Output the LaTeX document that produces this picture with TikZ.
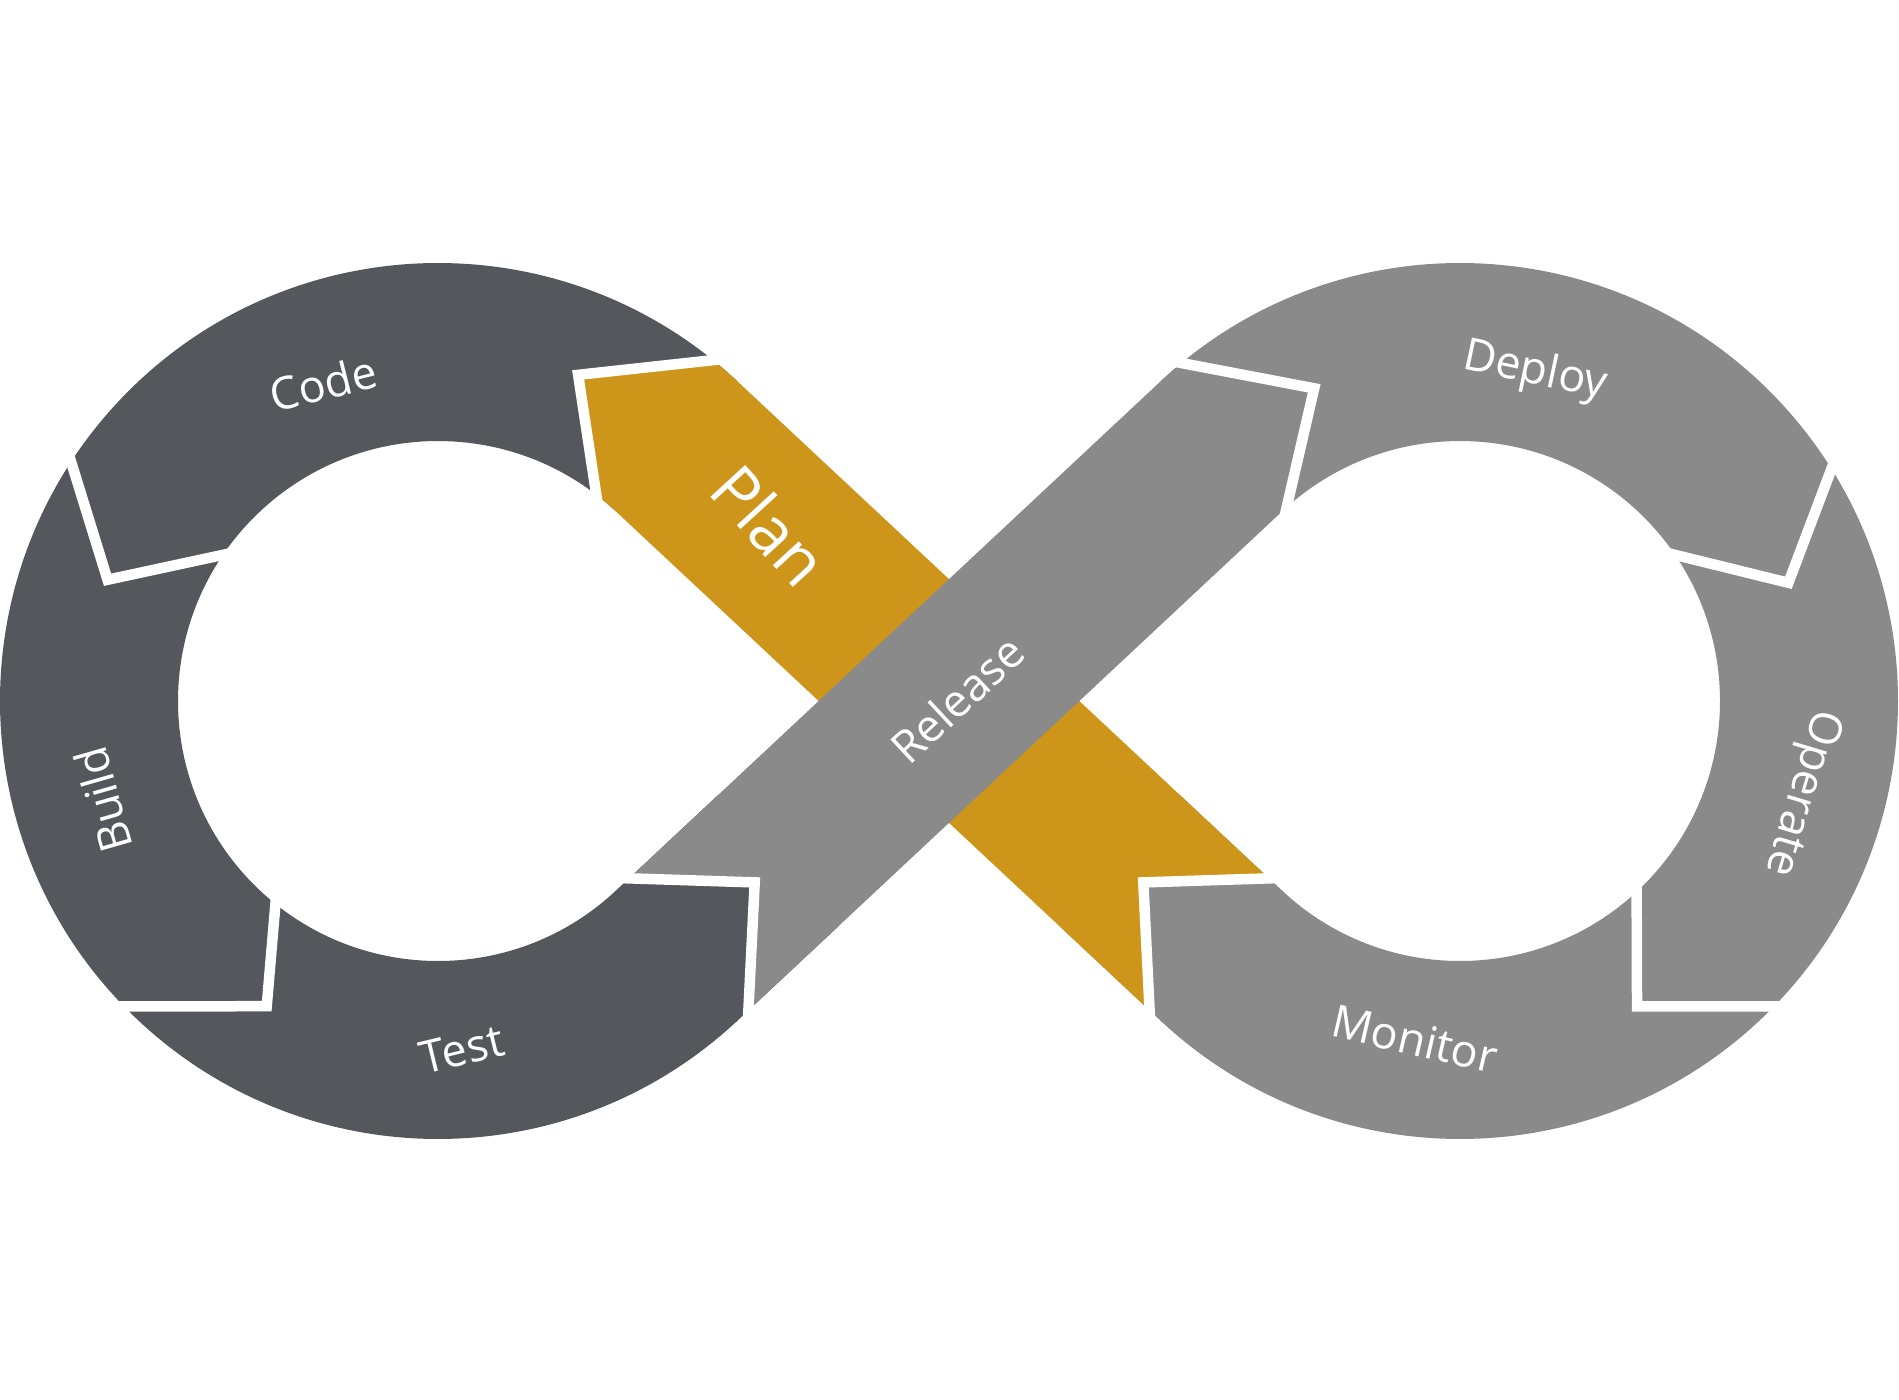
\documentclass[tikz,border=0pt]{standalone}
\usepackage{fontspec}
\setmainfont{Open Sans}
\usetikzlibrary{calc}
\definecolor{ringdark}{HTML}{54575C}
\definecolor{ringgray}{HTML}{8A8A8A}
\definecolor{plangold}{HTML}{CD951A}
\begin{document}
\begin{tikzpicture}[x=1pt,y=-1pt,
  gap/.style={white, line width=10.5pt, line join=miter, line cap=butt},
  lbl/.style={text=white, font=\fontsize{45}{54}\selectfont, inner sep=0pt},
  biglbl/.style={text=white, font=\fontsize{66}{80}\selectfont, inner sep=0pt}]
\useasboundingbox (0,0) rectangle (1899,1400);
\fill[white] (0,0) rectangle (1899,1400);
% centres
\coordinate (C1) at (438,701);
\coordinate (C2) at (1460,701);
% tangent points of the crossing bands
\coordinate (T1iR) at (615.57,890.91);
\coordinate (T1oR) at (737.14,1020.93);
\coordinate (T2oR) at (1160.86,381.07);
\coordinate (T2iR) at (1282.43,511.09);
\coordinate (T1iP) at (615.57,511.09);
\coordinate (T1oP) at (737.14,381.07);
\coordinate (T2oP) at (1160.86,1020.93);
\coordinate (T2iP) at (1282.43,890.91);
% cut points (outer, apex, inner)
\coordinate (k1o) at ($(C1)+(-51.1:438)$);
\coordinate (k1a) at ($(C1)+(-66.75:355)$);
\coordinate (k1i) at ($(C1)+(-52.5:260)$);
\coordinate (k2o) at ($(C1)+(-146.9:438)$);
\coordinate (k2a) at ($(C1)+(-159.85:352)$);
\coordinate (k2i) at ($(C1)+(-145.8:260)$);
\coordinate (k3o) at ($(C1)+(135.8:438)$);
\coordinate (k3a) at ($(C1)+(119.3:350)$);
\coordinate (k3i) at ($(C1)+(128.7:260)$);
\coordinate (k4o) at (748.4,1010.4);
\coordinate (k4a) at (754.7,882.4);
\coordinate (k4i) at (629,878.35);
\coordinate (k5o) at ($(C2)+(-129.5:438)$);
\coordinate (k5a) at ($(C2)+(-115:345)$);
\coordinate (k5i) at ($(C2)+(-131.8:260)$);
\coordinate (k6o) at ($(C2)+(-32:438)$);
\coordinate (k6a) at ($(C2)+(-19.8:349)$);
\coordinate (k6i) at ($(C2)+(-34.2:260)$);
\coordinate (k7o) at ($(C2)+(44.2:438)$);
\coordinate (k7a) at ($(C2)+(59.9:353)$);
\coordinate (k7i) at ($(C2)+(47.2:260)$);
\coordinate (k8o) at (1149.6,1010.4);
\coordinate (k8a) at (1143.3,882.4);
\coordinate (k8i) at (1269,878.35);

% left ring (Code, Build, Test)
\fill[ringdark] ($(C1)+(-46.93:438)$) arc[start angle=-46.93, end angle=-313.07, radius=438]
  -- ($(C1)+(46.93:260)$) arc[start angle=46.93, end angle=313.07, radius=260] -- cycle;
\fill[ringdark] (614.11,892.28) -- (735.68,1022.30) -- (839.40,925.31) -- (717.83,795.29) -- cycle;
% right ring (Deploy, Operate, Monitor)
\fill[ringgray] ($(C2)+(-133.07:438)$) arc[start angle=-133.07, end angle=133.07, radius=438]
  -- ($(C2)+(133.07:260)$) arc[start angle=133.07, end angle=-133.07, radius=260] -- cycle;
\fill[ringgray] (1162.32,1022.30) -- (1283.89,892.28) -- (1180.17,795.29) -- (1058.60,925.31) -- cycle;
% Plan band
\fill[plangold] (k1a) -- (k1o) arc[start angle=-51.1, end angle=-46.93, radius=438]
  -- (k8i) -- (k8a) -- (k8o) -- (T1iP) arc[start angle=-46.93, end angle=-52.5, radius=260] -- cycle;
% Release band
\fill[ringgray] (k4a) -- (k4i) -- (T2oR) arc[start angle=-133.07, end angle=-129.5, radius=438]
  -- (k5a) -- (k5i) arc[start angle=-131.8, end angle=-133.07, radius=260] -- (k4o) -- cycle;
% white separators
\foreach \k in {1,...,8}{
  \draw[gap] ($(k\k a)!1.12!(k\k o)$) -- (k\k a) -- ($(k\k a)!1.12!(k\k i)$);
}
% labels
\node[biglbl, rotate=-47.5] (plan) at (770,525) {Plan};
\node[lbl, rotate=14] (code) at (323,383) {Code};
\node[lbl, rotate=106] (build) at (103,800) {Build};
\node[lbl, rotate=13.6] (test) at (462,1049) {Test};
\node[lbl, rotate=43] (release) at (957,699) {Release};
\node[lbl, rotate=-12] (deploy) at (1535,372) {Deploy};
\node[lbl, rotate=-106.7] (operate) at (1801,793) {Operate};
\node[lbl, rotate=-13] (monitor) at (1415,1039) {Monitor};
\end{tikzpicture}
\end{document}
